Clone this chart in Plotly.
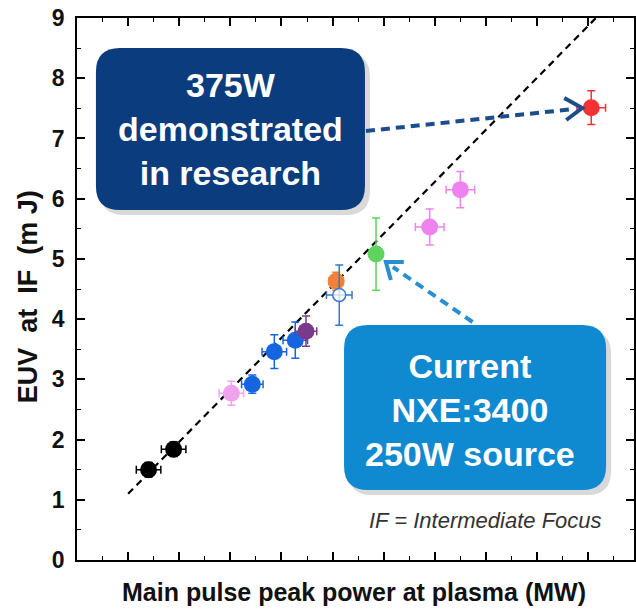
import plotly.graph_objects as go

# ---- data ----
pt_x = [1.40, 1.89, 3.02, 3.43, 3.86, 4.27, 4.48, 5.07, 5.13, 5.85, 6.90, 7.50, 10.06]
pt_y = [1.50, 1.84, 2.77, 2.92, 3.46, 3.65, 3.80, 4.63, 4.40, 5.08, 5.53, 6.15, 7.51]
err_x = [0.24, 0.24, 0.24, 0.21, 0.24, 0.24, 0.21, 0.14, 0.25, 0.0, 0.28, 0.28, 0.28]
err_y = [0.12, 0.12, 0.20, 0.15, 0.28, 0.30, 0.25, 0.15, 0.50, 0.60, 0.30, 0.30, 0.28]
pt_colors = ["#000000", "#000000", "#f0a4f0", "#1565e0", "#1565e0", "#1565e0", "#7a3a8a",
             "#f0803a", "#3a78d0", "#5ed45e", "#ee82ee", "#ee82ee", "#f43232"]
pt_open = [False] * 8 + [True] + [False] * 4

fit_x = [1.00, 10.15]
fit_y = [1.10, 9.0]

y_ticks = [0, 1, 2, 3, 4, 5, 6, 7, 8, 9]

W, H = 636, 610
ML, MR, MT, MB = 77, 0, 18, 50
PW, PH = W - ML - MR, H - MT - MB
X_UNIT = 51.3


def px(x):
    return (x - ML) / PW


def py(y):
    return (H - MB - y) / PH


def rrect(x0, y0, x1, y1, r):
    pts = [
        f"M {px(x0 + r)},{py(y0)}",
        f"L {px(x1 - r)},{py(y0)}",
        f"Q {px(x1)},{py(y0)} {px(x1)},{py(y0 + r)}",
        f"L {px(x1)},{py(y1 - r)}",
        f"Q {px(x1)},{py(y1)} {px(x1 - r)},{py(y1)}",
        f"L {px(x0 + r)},{py(y1)}",
        f"Q {px(x0)},{py(y1)} {px(x0)},{py(y1 - r)}",
        f"L {px(x0)},{py(y0 + r)}",
        f"Q {px(x0)},{py(y0)} {px(x0 + r)},{py(y0)}",
        "Z",
    ]
    return " ".join(pts)


fig = go.Figure()

fig.add_trace(go.Scatter(
    x=fit_x, y=fit_y, mode="lines",
    line=dict(color="black", width=2.2, dash="7px,5px"),
    showlegend=False, hoverinfo="skip"))

for i in range(len(pt_x)):
    c = pt_colors[i]
    marker = dict(size=17, color=c, line=dict(width=0))
    if pt_open[i]:
        marker = dict(size=13, color="rgba(255,255,255,0.75)", line=dict(width=1.5, color=c))
    fig.add_trace(go.Scatter(
        x=[pt_x[i]], y=[pt_y[i]], mode="markers",
        marker=marker,
        error_x=dict(type="data", array=[err_x[i]], color=c, thickness=1.5, width=4, visible=err_x[i] > 0),
        error_y=dict(type="data", array=[err_y[i]], color=c, thickness=1.5, width=4),
        showlegend=False))

shapes = []
# shadows
shapes.append(dict(type="path", xref="paper", yref="paper", path=rrect(100, 53, 371, 215, 24),
                   fillcolor="rgba(0,0,0,0.15)", line=dict(width=0), layer="above"))
shapes.append(dict(type="path", xref="paper", yref="paper", path=rrect(349, 330, 613, 495, 24),
                   fillcolor="rgba(0,0,0,0.15)", line=dict(width=0), layer="above"))
# boxes
shapes.append(dict(type="path", xref="paper", yref="paper", path=rrect(96, 48, 366, 210, 24),
                   fillcolor="#0b3c7d", line=dict(width=0), layer="above"))
shapes.append(dict(type="path", xref="paper", yref="paper", path=rrect(345, 325, 608, 490, 24),
                   fillcolor="#0f89cf", line=dict(width=0), layer="above"))
# dashed arrows
shapes.append(dict(type="line", xref="paper", yref="paper", x0=px(367), y0=py(131), x1=px(576), y1=py(109),
                   line=dict(color="#1b4c8c", width=4, dash="9px,6px"), layer="above"))
shapes.append(dict(type="path", xref="paper", yref="paper",
                   path=f"M {px(566)},{py(98)} L {px(584)},{py(108)} L {px(568)},{py(120)}",
                   line=dict(color="#1b4c8c", width=4), layer="above"))
shapes.append(dict(type="line", xref="paper", yref="paper", x0=px(474), y0=py(322), x1=px(394), y1=py(267),
                   line=dict(color="#2a8fd0", width=4, dash="9px,6px"), layer="above"))
shapes.append(dict(type="path", xref="paper", yref="paper",
                   path=f"M {px(392)},{py(280)} L {px(387)},{py(262)} L {px(405)},{py(262)}",
                   line=dict(color="#2a8fd0", width=4), layer="above"))

annotations = [
    dict(x=px(231), y=py(129), xref="paper", yref="paper", showarrow=False,
         xanchor="center", yanchor="middle",
         text="<b>375W</b><br><b>demonstrated</b><br><b>in research</b>",
         font=dict(family="Liberation Sans, Arial", size=34, color="white"), align="center"),
    dict(x=px(471), y=py(410), xref="paper", yref="paper", showarrow=False,
         xanchor="center", yanchor="middle",
         text="<b>Current</b><br><b>NXE:3400</b><br><b>250W source</b>",
         font=dict(family="Liberation Sans, Arial", size=34, color="white"), align="center"),
    dict(x=px(606), y=py(520), xref="paper", yref="paper", showarrow=False,
         xanchor="right", yanchor="middle",
         text="<i>IF = Intermediate Focus</i>",
         font=dict(family="Liberation Sans, Arial", size=22, color="#333333")),
    dict(x=px(355), y=py(592), xref="paper", yref="paper", showarrow=False,
         xanchor="center", yanchor="middle",
         text="<b>Main pulse peak power at plasma (MW)</b>",
         font=dict(family="Liberation Sans, Arial", size=25, color="#111111")),
    dict(x=px(28), y=py(297), xref="paper", yref="paper", showarrow=False, textangle=-90,
         xanchor="center", yanchor="middle",
         text="<b>EUV  at  IF  (m J)</b>",
         font=dict(family="Liberation Sans, Arial", size=27, color="#111111")),
]

fig.update_layout(
    width=W, height=H,
    margin=dict(l=ML, r=MR, t=MT, b=MB),
    paper_bgcolor="white", plot_bgcolor="white",
    shapes=shapes, annotations=annotations,
    showlegend=False,
)
fig.update_xaxes(range=[0, PW / X_UNIT], showgrid=False, zeroline=False,
                 showline=True, linecolor="black", linewidth=1.5, mirror="allticks",
                 ticks="inside", ticklen=8, tickwidth=1.5, tickcolor="black", dtick=1, tick0=0,
                 showticklabels=False,
                 minor=dict(ticks="inside", ticklen=4, tickwidth=1.2, tickcolor="black", dtick=0.5))
fig.update_yaxes(range=[0, 9], showgrid=False, zeroline=False,
                 showline=True, linecolor="black", linewidth=1.5, mirror="allticks",
                 ticks="inside", ticklen=8, tickwidth=1.5, tickcolor="black",
                 tickvals=y_ticks, ticktext=[f"<b>{v}</b>" for v in y_ticks],
                 ticklabelstandoff=6,
                 tickfont=dict(family="Liberation Sans, Arial", size=23, color="#111111"),
                 minor=dict(ticks="inside", ticklen=4, tickwidth=1.2, tickcolor="black", dtick=0.5))

fig.write_html("out.html")
